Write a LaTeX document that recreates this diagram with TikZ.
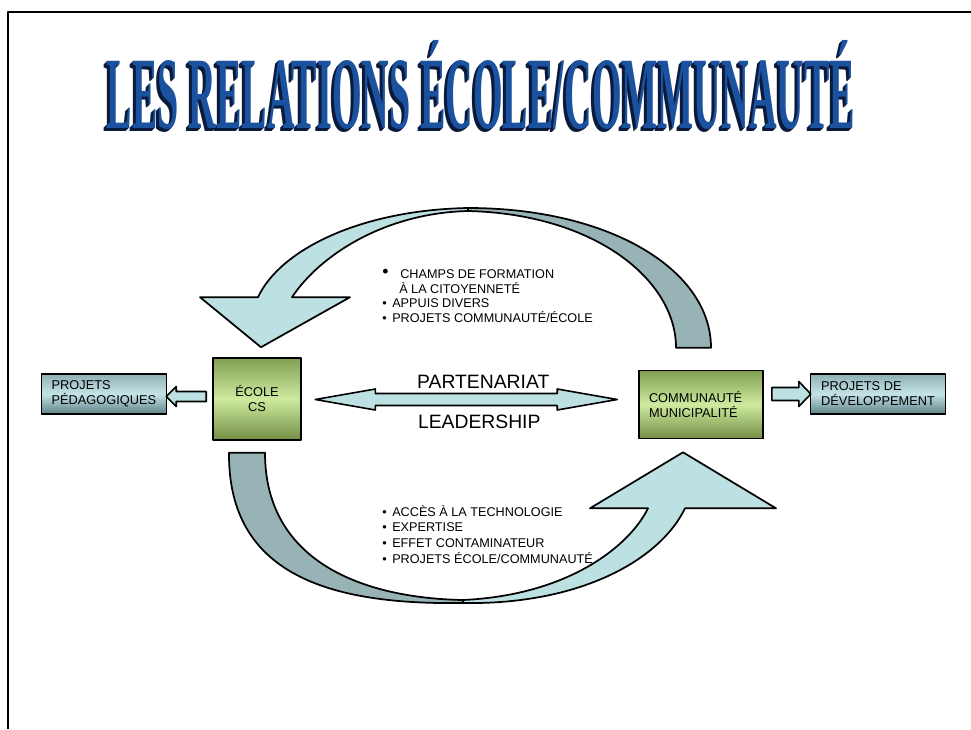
\documentclass[tikz,border=0pt]{standalone}
\usepackage{graphicx}
\usepackage{fontspec}
\setmainfont{Liberation Sans}
\newfontfamily\titlefont{Liberation Serif}
\usetikzlibrary{positioning,calc}
\definecolor{ribbonlight}{HTML}{BDE0E3}
\definecolor{ribbondark}{HTML}{97B3B5}
\definecolor{greentop}{HTML}{82A052}
\definecolor{greenmid}{HTML}{CDEA9F}
\definecolor{greenbot}{HTML}{748F45}
\definecolor{tealtop}{HTML}{8FB0B3}
\definecolor{tealmid}{HTML}{C4E3E6}
\definecolor{tealbot}{HTML}{5D8286}
\definecolor{titleblue}{HTML}{1A52A0}
\definecolor{titledark}{HTML}{0B1A3A}
\newcommand{\titleline}{\scalebox{0.372}[1]{\titlefont\bfseries\fontsize{77}{77}\selectfont LES RELATIONS ÉCOLE/COMMUNAUTÉ}}

\begin{document}
\begin{tikzpicture}[x=0.75pt,y=-0.75pt,line join=round]
	\tikzstyle{mainbox}=[rectangle,draw=black,line width=1.2pt,top color=greentop,bottom color=greenbot,middle color=greenmid,font=\fontsize{9.6}{11.25}\selectfont]
	\tikzstyle{sidebox}=[rectangle,draw=black,line width=1.2pt,top color=tealtop,bottom color=tealbot,middle color=tealmid,font=\fontsize{9.6}{11.25}\selectfont,align=left,minimum height=30pt,inner ysep=2pt]
	\tikzstyle{ribbon}=[draw=black,line width=1.3pt]
	\tikzstyle{hollowarrow}=[draw=black,line width=1.2pt,fill=ribbonlight]
	\tikzstyle{bullets}=[anchor=base west,inner sep=0pt,align=left]
	\tikzstyle{heading}=[anchor=base,inner sep=0pt]

	\useasboundingbox (0,0) rectangle (971,729);
	\draw[line width=1.1pt] (8,729) -- (8,12) -- (971,12);

	\foreach \d in {3,2,1}
		\node[heading,text=titledark] (titleshade\d) at (481-\d,128+\d) {\titleline};
	\node[heading,text=titleblue] (title) at (481,128) {\titleline};

	\node[mainbox,minimum width=66pt,minimum height=61.5pt,align=center] (ecole) at (257,399) {ÉCOLE\\CS};
	\node[mainbox,minimum width=93pt,minimum height=51pt,align=left,text width=78pt] (commun) at (701,404.5) {COMMUNAUTÉ\\MUNICIPALITÉ};
	\node[sidebox,minimum width=93.75pt] (pedago) [left=33.75pt of ecole,yshift=3.75pt] {PROJETS\\PÉDAGOGIQUES};
	\node[sidebox,minimum width=101.25pt] (devel) [right=34.5pt of commun,yshift=7.875pt] {PROJETS DE\\DÉVELOPPEMENT};

	\draw[hollowarrow] ($(pedago.east)+(-1,2.5)$) -- ++(10,-10) -- ++(0,5) -- ++(30,0) -- ++(0,10) -- ++(-30,0) -- ++(0,5) -- cycle;
	\draw[hollowarrow] ($(devel.west)+(1,0)$) -- ++(-12,-12.5) -- ++(0,6) -- ++(-27,0) -- ++(0,13) -- ++(27,0) -- ++(0,6) -- cycle;

	\coordinate (pl) at ($(ecole.east)+(13.5,0.5)$);
	\coordinate (pr) at ($(commun.west)+(-21,-5)$);
	\draw[hollowarrow] (pl) -- ($(pl)+(60,-10.5)$) -- ($(pl)+(60,-6)$) -- ($(pr)+(-60,-6)$) -- ($(pr)+(-60,-10.5)$) -- (pr)
		-- ($(pr)+(-60,10.5)$) -- ($(pr)+(-60,6)$) -- ($(pl)+(60,6)$) -- ($(pl)+(60,10.5)$) -- cycle;
	\node[font=\fontsize{14.5}{14.5}\selectfont] (partner) at ($(pl)!0.5!(pr)+(17,-18)$) {PARTENARIAT};
	\node[font=\fontsize{14.5}{14.5}\selectfont] (leader) at ($(pl)!0.5!(pr)+(13,22)$) {LEADERSHIP};

	\coordinate (toptip) at ($(ecole.north)+(4,-10)$);
	\coordinate (toptail) at ($(commun.north)+(-7,-22)$);
	\draw[ribbon,fill=ribbonlight] ($(toptip)+(-3,-50)$) .. controls (280,250) and (360,210) .. (468,208) -- (468,211)
		.. controls (385,213) and (320,255) .. ($(toptip)+(31,-50)$) -- ($(toptip)+(89,-50)$) -- (toptip) -- ($(toptip)+(-61,-50)$) -- cycle;
	\draw[ribbon,fill=ribbondark] (468,208) .. controls (610,208) and (711,270) .. ($(toptail)+(17,0)$) -- ($(toptail)+(-18,0)$)
		.. controls (676,280) and (595,214) .. (468,211) -- cycle;

	\coordinate (bottail) at ($(ecole.south)+(-10,12)$);
	\coordinate (bottip) at ($(commun.south)+(-18,13)$);
	\draw[ribbon,fill=ribbondark] ($(bottail)+(-18,0)$) .. controls (228,575) and (330,605) .. (463,603) -- (463,600)
		.. controls (360,598) and (265,560) .. ($(bottail)+(18,0)$) -- cycle;
	\draw[ribbon,fill=ribbonlight] (463,603) .. controls (580,605) and (660,560) .. ($(bottip)+(2,56)$) -- ($(bottip)+(93,56)$) -- (bottip)
		-- ($(bottip)+(-93,56)$) -- ($(bottip)+(-35,56)$) .. controls (630,545) and (570,595) .. (463,600) -- cycle;

	\node[bullets,font=\fontsize{9.5}{10.9}\selectfont] (donnees) at (382,322.5) {\makebox[13.5pt][l]{\raisebox{1pt}{\scalebox{1.4}{•}}}CHAMPS DE FORMATION\\\hspace*{12.75pt}À LA CITOYENNETÉ\\\makebox[7.5pt][l]{•}APPUIS DIVERS\\\makebox[7.5pt][l]{•}PROJETS COMMUNAUTÉ/ÉCOLE};
	\node[bullets,font=\fontsize{9.5}{11.85}\selectfont] (apports) at (382,563.5) {\makebox[7.5pt][l]{•}ACCÈS À LA TECHNOLOGIE\\\makebox[7.5pt][l]{•}EXPERTISE\\\makebox[7.5pt][l]{•}EFFET CONTAMINATEUR\\\makebox[7.5pt][l]{•}PROJETS ÉCOLE/COMMUNAUTÉ};
\end{tikzpicture}
\end{document}
